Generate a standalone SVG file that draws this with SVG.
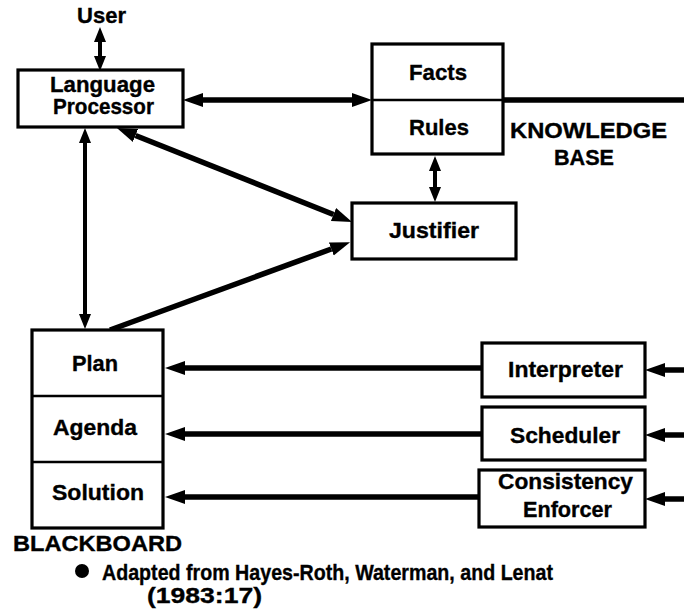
<svg xmlns="http://www.w3.org/2000/svg" width="684" height="610" viewBox="0 0 684 610">
  <defs>
    <style>
      .box { fill: #fff; stroke: #000; stroke-width: 3.2; }
      .div { stroke: #000; stroke-width: 2.5; fill: none; }
      .lbl { font-family: "Liberation Sans", Arial, sans-serif; font-weight: bold; font-size: 21.5px; fill: #000; stroke: #000; stroke-width: 0.35; }
      .ln { stroke: #000; fill: none; stroke-width: 5.5; stroke-linecap: butt; }
      .ln4 { stroke: #000; fill: none; stroke-width: 4; stroke-linecap: butt; }
    </style>
    <!-- arrowhead whose base sits at the line end, tip pointing forward -->
    <marker id="head" markerUnits="userSpaceOnUse" markerWidth="20" markerHeight="16" refX="0" refY="7" orient="auto-start-reverse" viewBox="0 0 20 14">
      <path d="M0,0 L20,7 L0,14 z" fill="#000"/>
    </marker>
    <marker id="headS" markerUnits="userSpaceOnUse" markerWidth="15" markerHeight="13" refX="0" refY="6" orient="auto-start-reverse" viewBox="0 0 15 12">
      <path d="M0,0 L15,6 L0,12 z" fill="#000"/>
    </marker>
  </defs>
  <rect width="684" height="610" fill="#fff"/>

  <!-- connectors -->
  <g id="connectors">
    <!-- User <-> Language Processor -->
    <line class="ln4" x1="100" y1="42" x2="100" y2="56" marker-start="url(#headS)" marker-end="url(#headS)"/>
    <!-- Language Processor <-> Facts/Rules -->
    <line class="ln" x1="203" y1="100" x2="352" y2="100" marker-start="url(#head)" marker-end="url(#head)"/>
    <!-- knowledge base rail to the right -->
    <line class="ln" x1="503" y1="100" x2="684" y2="100"/>
    <!-- Language Processor <-> Justifier -->
    <line class="ln" x1="135.5" y1="135.5" x2="333.5" y2="214.5" marker-start="url(#head)" marker-end="url(#head)"/>
    <!-- Language Processor <-> Blackboard -->
    <line class="ln4" x1="85" y1="143" x2="85" y2="314" marker-start="url(#headS)" marker-end="url(#headS)"/>
    <!-- Blackboard -> Justifier -->
    <line class="ln" x1="110" y1="330" x2="331.3" y2="249" marker-end="url(#head)"/>
    <!-- Rules <-> Justifier -->
    <line class="ln4" x1="435" y1="171" x2="435" y2="187" marker-start="url(#headS)" marker-end="url(#headS)"/>
    <!-- knowledge sources -> blackboard levels -->
    <line class="ln" x1="482" y1="368" x2="185" y2="368" marker-end="url(#head)"/>
    <line class="ln" x1="482" y1="434" x2="185" y2="434" marker-end="url(#head)"/>
    <line class="ln" x1="479" y1="497" x2="185" y2="497" marker-end="url(#head)"/>
    <!-- incoming lines from the right -->
    <line class="ln" x1="684" y1="370" x2="665" y2="370" marker-end="url(#head)"/>
    <line class="ln" x1="684" y1="435" x2="665" y2="435" marker-end="url(#head)"/>
    <line class="ln" x1="684" y1="499" x2="665" y2="499" marker-end="url(#head)"/>
  </g>

  <g id="user">
    <text class="lbl" x="77" y="23" textLength="49" lengthAdjust="spacingAndGlyphs">User</text>
  </g>

  <g id="language-processor">
    <rect class="box" x="18" y="70" width="165" height="57"/>
    <text class="lbl" x="50" y="92" textLength="105" lengthAdjust="spacingAndGlyphs">Language</text>
    <text class="lbl" x="53" y="114" textLength="101" lengthAdjust="spacingAndGlyphs">Processor</text>
  </g>

  <g id="knowledge-base">
    <rect class="box" x="372" y="44" width="131" height="110"/>
    <line class="div" x1="372" y1="100" x2="503" y2="100"/>
    <text class="lbl" x="409" y="80" textLength="58" lengthAdjust="spacingAndGlyphs">Facts</text>
    <text class="lbl" x="409" y="135" textLength="60" lengthAdjust="spacingAndGlyphs">Rules</text>
    <text class="lbl" x="510" y="138" textLength="157" lengthAdjust="spacingAndGlyphs">KNOWLEDGE</text>
    <text class="lbl" x="554" y="165" textLength="60" lengthAdjust="spacingAndGlyphs">BASE</text>
  </g>

  <g id="justifier">
    <rect class="box" x="352" y="203" width="164" height="56"/>
    <text class="lbl" x="389" y="238" textLength="90" lengthAdjust="spacingAndGlyphs">Justifier</text>
  </g>

  <g id="blackboard">
    <rect class="box" x="32" y="330" width="131" height="198"/>
    <line class="div" x1="32" y1="396" x2="163" y2="396"/>
    <line class="div" x1="32" y1="462" x2="163" y2="462"/>
    <text class="lbl" x="72" y="371" textLength="46" lengthAdjust="spacingAndGlyphs">Plan</text>
    <text class="lbl" x="53" y="435" textLength="84" lengthAdjust="spacingAndGlyphs">Agenda</text>
    <text class="lbl" x="52" y="500" textLength="92" lengthAdjust="spacingAndGlyphs">Solution</text>
    <text class="lbl" x="13" y="551" textLength="169" lengthAdjust="spacingAndGlyphs">BLACKBOARD</text>
  </g>

  <g id="interpreter">
    <rect class="box" x="482" y="343" width="163" height="54"/>
    <text class="lbl" x="508" y="377" textLength="115" lengthAdjust="spacingAndGlyphs">Interpreter</text>
  </g>

  <g id="scheduler">
    <rect class="box" x="482" y="407" width="163" height="53"/>
    <text class="lbl" x="510" y="443" textLength="110" lengthAdjust="spacingAndGlyphs">Scheduler</text>
  </g>

  <g id="consistency-enforcer">
    <rect class="box" x="479" y="470" width="166" height="57"/>
    <text class="lbl" x="498" y="489" textLength="135" lengthAdjust="spacingAndGlyphs">Consistency</text>
    <text class="lbl" x="523" y="517" textLength="89" lengthAdjust="spacingAndGlyphs">Enforcer</text>
  </g>

  <g id="source-note">
    <circle cx="82" cy="571" r="7" fill="#000"/>
    <text class="lbl" x="102" y="580" textLength="451" lengthAdjust="spacingAndGlyphs">Adapted from Hayes-Roth, Waterman, and Lenat</text>
    <text class="lbl" x="147" y="603" textLength="115" lengthAdjust="spacingAndGlyphs">(1983:17)</text>
  </g>
</svg>
